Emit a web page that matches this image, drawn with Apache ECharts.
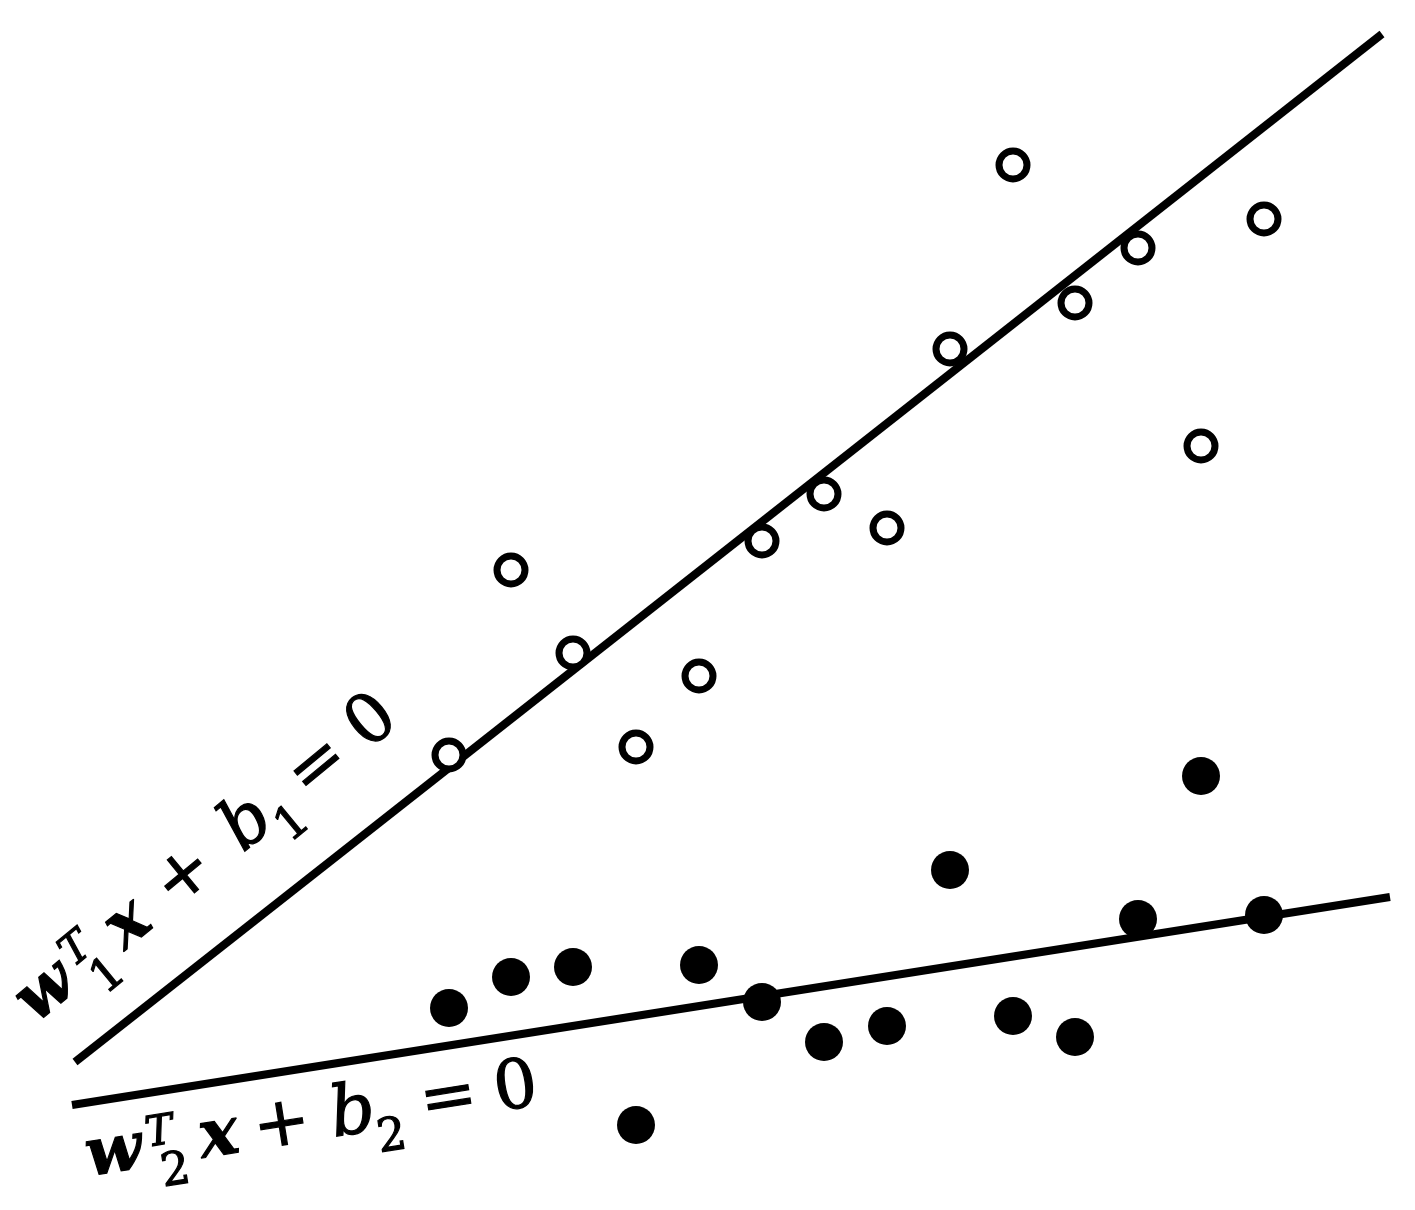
<!DOCTYPE html>
<html>
<head>
<meta charset="utf-8">
<script src="https://cdn.jsdelivr.net/npm/echarts@6/dist/echarts.min.js"></script>
<style>
  html, body { margin: 0; padding: 0; background: #fff; }
  #chart { width: 1415px; height: 1210px; }
</style>
</head>
<body>
<div id="chart"></div>
<script>
var myChart = echarts.init(document.getElementById("chart"));

// 数据 (picture units: x to the right, y downward)
var xs = [449, 511, 573, 636, 699, 762, 824, 887, 950, 1013, 1075, 1138, 1201, 1264];
var openY = [755, 570, 653, 747, 676, 541, 494, 528, 349, 165, 303, 248, 446, 219];
var filledY = [1008, 977, 967, 1125, 965, 1002, 1042, 1026, 870, 1016, 1037, 919, 776, 915];
var line1 = [[75, 1062], [1382, 34]];
var line2 = [[72, 1105], [1390, 897]];

var openPts = xs.map(function (x, i) { return [x, openY[i]]; });
var filledPts = xs.map(function (x, i) { return [x, filledY[i]]; });

var family = "'DejaVu Serif', 'Liberation Serif', serif";

// one glyph of a formula label, placed along its baseline
function glyph(t, dx, base, size, style) {
	return {
		type: "text",
		x: dx,
		y: base - 0.36 * size,
		style: {
			text: t,
			font: (style || "") + " " + size + "px " + family,
			fill: "#000",
			stroke: "#000",
			lineWidth: 1.2,
			align: "center",
			verticalAlign: "middle"
		}
	};
}

function formula(sub, pos, x, y, deg) {
	return {
		type: "group",
		x: x,
		y: y,
		rotation: deg * Math.PI / 180,
		children: [
			glyph("w", pos[0], 0, 66, "italic bold"),
			glyph("T", pos[1], -22, 42, "italic"),
			glyph(sub, pos[2], 20, 46),
			glyph("x", pos[3], 0, 66, "italic bold"),
			glyph("+", pos[4], 0, 68),
			glyph("b", pos[5], 0, 70, "italic"),
			glyph(sub, pos[6], 20, 46),
			glyph("=", pos[7], 0, 68),
			glyph("0", pos[8], 0, 68)
		]
	};
}

var option = {
	backgroundColor: "#fff",
	animation: false,
	grid: { left: 0, right: 0, top: 0, bottom: 0 },
	xAxis: { type: "value", min: 0, max: 1415, show: false },
	yAxis: { type: "value", min: 0, max: 1210, inverse: true, show: false },
	series: [
		{
			type: "line",
			data: line1,
			showSymbol: false,
			lineStyle: { color: "#000", width: 8 },
			z: 1
		},
		{
			type: "line",
			data: line2,
			showSymbol: false,
			lineStyle: { color: "#000", width: 8 },
			z: 1
		},
		{
			type: "scatter",
			data: openPts,
			symbol: "circle",
			symbolSize: 28,
			itemStyle: { color: "#fff", borderColor: "#000", borderWidth: 7, opacity: 1 },
			z: 3
		},
		{
			type: "scatter",
			data: filledPts,
			symbol: "circle",
			symbolSize: 38,
			itemStyle: { color: "#000", opacity: 1 },
			z: 3
		}
	],
	graphic: [
		formula("1", [0, 50, 58, 106, 180, 262, 297, 353, 423], 62, 1011, 39.5),
		formula("2", [0, 48, 58, 106, 170, 242, 277, 339, 407], 118, 1178, 9)
	]
};

myChart.setOption(option);
</script>
</body>
</html>
